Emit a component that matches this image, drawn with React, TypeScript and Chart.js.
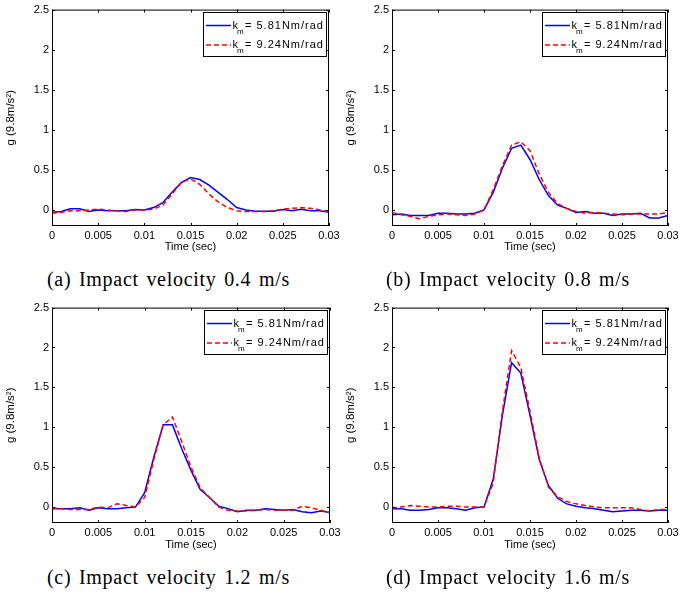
import React, { useEffect, useRef } from "react";
import { Chart, registerables } from "chart.js";

Chart.register(...registerables);

const TIME = [
  0, 0.001, 0.002, 0.003, 0.004, 0.005, 0.006, 0.007, 0.008, 0.009, 0.01,
  0.011, 0.012, 0.013, 0.014, 0.015, 0.016, 0.017, 0.018, 0.019, 0.02,
  0.021, 0.022, 0.023, 0.024, 0.025, 0.026, 0.027, 0.028, 0.029, 0.03,
];

const X_TICKS = [0, 0.005, 0.01, 0.015, 0.02, 0.025, 0.03];
const X_TICK_LABELS = ["0", "0.005", "0.01", "0.015", "0.02", "0.025", "0.03"];
const Y_TICKS = [0, 0.5, 1, 1.5, 2, 2.5];
const Y_TICK_LABELS = ["0", "0.5", "1", "1.5", "2", "2.5"];

const SERIES_NAMES = ["5.81Nm/rad", "9.24Nm/rad"];

// (a) 0.4 m/s
const A_KM581 = [-0.03, -0.02, 0.015, 0.015, -0.02, 0, -0.01, -0.01, -0.01, 0.005, 0, 0.03, 0.09, 0.22, 0.34, 0.405, 0.38, 0.31, 0.22, 0.13, 0.03, 0, -0.015, -0.015, -0.015, 0.005, -0.01, 0.01, -0.01, -0.01, -0.03];
const A_KM924 = [-0.04, -0.03, -0.01, -0.01, 0, 0.01, 0, -0.01, -0.02, 0, 0, 0.01, 0.06, 0.2, 0.34, 0.39, 0.32, 0.2, 0.1, 0.03, -0.01, -0.02, -0.02, -0.02, -0.01, 0.01, 0.02, 0.03, 0.02, 0, -0.02];
// (b) 0.8 m/s
const B_KM581 = [-0.06, -0.05, -0.07, -0.07, -0.07, -0.04, -0.04, -0.05, -0.05, -0.04, 0, 0.22, 0.52, 0.77, 0.81, 0.63, 0.38, 0.18, 0.06, 0.02, -0.03, -0.02, -0.04, -0.04, -0.07, -0.05, -0.05, -0.04, -0.1, -0.1, -0.07];
const B_KM924 = [-0.03, -0.06, -0.08, -0.11, -0.08, -0.06, -0.05, -0.06, -0.07, -0.05, 0, 0.25, 0.55, 0.81, 0.85, 0.74, 0.45, 0.22, 0.08, 0.02, -0.02, -0.04, -0.03, -0.04, -0.05, -0.06, -0.05, -0.05, -0.05, -0.05, -0.03];
// (c) 1.2 m/s
const C_KM581 = [-0.02, -0.02, -0.02, -0.01, -0.04, -0.01, -0.02, -0.02, -0.01, 0, 0.18, 0.63, 1.03, 1.03, 0.73, 0.46, 0.22, 0.12, 0.01, -0.02, -0.06, -0.04, -0.04, -0.02, -0.03, -0.04, -0.03, -0.06, -0.07, -0.05, -0.07];
const C_KM924 = [-0.01, -0.02, -0.03, -0.03, -0.03, 0, -0.01, 0.04, 0.02, 0, 0.12, 0.6, 1.03, 1.13, 0.82, 0.5, 0.24, 0.12, 0, -0.04, -0.05, -0.05, -0.04, -0.03, -0.04, -0.04, -0.04, 0.01, -0.01, -0.04, -0.07];
// (d) 1.6 m/s
const D_KM581 = [-0.02, -0.02, -0.04, -0.04, -0.03, -0.01, -0.01, -0.02, -0.04, -0.01, 0, 0.35, 1.15, 1.81, 1.68, 1.15, 0.6, 0.27, 0.11, 0.04, 0.01, -0.01, -0.02, -0.04, -0.06, -0.05, -0.04, -0.04, -0.05, -0.04, -0.04];
const D_KM924 = [-0.01, 0, 0.02, 0.01, 0, 0, 0.01, 0.01, 0, 0, 0, 0.3, 1.2, 1.96, 1.75, 1.2, 0.62, 0.25, 0.13, 0.07, 0.04, 0.02, 0, -0.01, -0.01, -0.01, -0.01, -0.03, -0.05, -0.03, -0.03];

const CAPTIONS = [
  "(a) Impact velocity 0.4 m/s",
  "(b) Impact velocity 0.8 m/s",
  "(c) Impact velocity 1.2 m/s",
  "(d) Impact velocity 1.6 m/s",
];

const SANS = "'Liberation Sans', Arial, Helvetica, sans-serif";
const BLUE = "#0000ff";
const RED = "#ff0000";

function drawLegend(ctx: CanvasRenderingContext2D, area: any) {
  const w = 123;
  const h = 44;
  const bx = Math.round(area.right - 3 - w);
  const by = Math.round(area.top + 2);
  ctx.save();
  ctx.fillStyle = "#fff";
  ctx.fillRect(bx, by, w, h);
  ctx.strokeStyle = "#000";
  ctx.lineWidth = 1;
  ctx.setLineDash([]);
  ctx.strokeRect(bx + 0.5, by + 0.5, w, h);
  const items = [
    { color: BLUE, dash: [] as number[], name: SERIES_NAMES[0] },
    { color: RED, dash: [5, 3], name: SERIES_NAMES[1] },
  ];
  items.forEach((it, i) => {
    const ly = by + 13.5 + i * 19.5;
    ctx.strokeStyle = it.color;
    ctx.lineWidth = 1.5;
    ctx.setLineDash(it.dash);
    ctx.beginPath();
    ctx.moveTo(bx + 3, ly);
    ctx.lineTo(bx + 28, ly);
    ctx.stroke();
    ctx.setLineDash([]);
    ctx.fillStyle = "#000";
    ctx.textAlign = "left";
    ctx.textBaseline = "middle";
    ctx.font = `11px ${SANS}`;
    (ctx as any).letterSpacing = "0px";
    ctx.fillText("k", bx + 29.5, ly);
    ctx.font = `8px ${SANS}`;
    ctx.fillText("m", bx + 34, ly + 6);
    ctx.font = `11px ${SANS}`;
    (ctx as any).letterSpacing = "1px";
    ctx.fillText("= " + it.name, bx + 42, ly);
    (ctx as any).letterSpacing = "0px";
  });
  ctx.restore();
}

const framePlugin = {
  id: "matlabFrame",
  afterDatasetsDraw(chart: any) {
    const { ctx, chartArea } = chart;
    const { left, right, top, bottom } = chartArea;
    const xs = chart.scales.x;
    const ys = chart.scales.y;
    ctx.save();
    ctx.strokeStyle = "#000";
    ctx.lineWidth = 1;
    ctx.setLineDash([]);
    ctx.strokeRect(left + 0.5, top + 0.5, right - left - 1, bottom - top - 1);
    ctx.beginPath();
    for (const v of X_TICKS) {
      const px = Math.round(xs.getPixelForValue(v)) + 0.5;
      ctx.moveTo(px, bottom);
      ctx.lineTo(px, bottom - 3);
      ctx.moveTo(px, top);
      ctx.lineTo(px, top + 3);
    }
    for (const v of Y_TICKS) {
      const py = Math.round(ys.getPixelForValue(v)) + 0.5;
      ctx.moveTo(left, py);
      ctx.lineTo(left + 3, py);
      ctx.moveTo(right, py);
      ctx.lineTo(right - 3, py);
    }
    ctx.stroke();
    ctx.restore();
    drawLegend(ctx, chartArea);
  },
};

type PanelProps = {
  left: number;
  top: number;
  rightPad: number;
  xAxisHeight: number;
  km581: number[];
  km924: number[];
};

function Panel({ left, top, rightPad, xAxisHeight, km581, km924 }: PanelProps) {
  const ref = useRef<HTMLCanvasElement | null>(null);
  useEffect(() => {
    if (!ref.current) return;
    const font = { family: SANS, size: 11 };
    const chart = new Chart(ref.current, {
      type: "line",
      data: {
        labels: TIME,
        datasets: [
          {
            label: SERIES_NAMES[0],
            data: TIME.map((t, i) => ({ x: t, y: km581[i] })),
            borderColor: BLUE,
            borderWidth: 1.5,
            pointRadius: 0,
            tension: 0,
            fill: false,
            order: 1,
          },
          {
            label: SERIES_NAMES[1],
            data: TIME.map((t, i) => ({ x: t, y: km924[i] })),
            borderColor: RED,
            borderWidth: 1.5,
            borderDash: [5, 3],
            pointRadius: 0,
            tension: 0,
            fill: false,
            order: 0,
          },
        ],
      },
      options: {
        responsive: false,
        animation: false,
        events: [],
        layout: { padding: { left: 0, right: rightPad, top: 8, bottom: 0 } },
        plugins: { legend: { display: false }, tooltip: { enabled: false } },
        scales: {
          x: {
            type: "linear",
            min: 0,
            max: 0.03,
            afterBuildTicks: (s: any) => {
              s.ticks = X_TICKS.map((v) => ({ value: v }));
            },
            afterFit: (s: any) => {
              s.height = xAxisHeight;
            },
            grid: { display: false, drawTicks: false },
            border: { display: false },
            ticks: {
              padding: 3,
              color: "#000",
              font,
              maxRotation: 0,
              autoSkip: false,
              callback: (_v: any, i: number) => X_TICK_LABELS[i],
            },
            title: {
              display: true,
              text: "Time (sec)",
              color: "#000",
              font,
              padding: { top: 0, bottom: 6 },
            },
          },
          y: {
            type: "linear",
            min: -0.2,
            max: 2.5,
            afterBuildTicks: (s: any) => {
              s.ticks = Y_TICKS.map((v) => ({ value: v }));
            },
            afterFit: (s: any) => {
              s.width = 52;
            },
            grid: { display: false, drawTicks: false },
            border: { display: false },
            ticks: {
              padding: 3,
              color: "#000",
              font,
              autoSkip: false,
              callback: (_v: any, i: number) => Y_TICK_LABELS[i],
            },
            title: {
              display: true,
              text: "g (9.8m/s\u00B2)",
              color: "#000",
              font: { family: SANS, size: 11.5 },
              padding: { top: 4, bottom: 0 },
            },
          },
        },
      } as any,
      plugins: [framePlugin],
    });
    return () => chart.destroy();
  }, [km581, km924, rightPad, xAxisHeight]);
  return (
    <canvas
      ref={ref}
      width={350}
      height={260}
      style={{ position: "absolute", left, top, width: 350, height: 260 }}
    />
  );
}

const captionStyle: React.CSSProperties = {
  position: "absolute",
  fontFamily: "'Liberation Serif', 'Times New Roman', serif",
  fontSize: 20,
  letterSpacing: "0.7px",
  wordSpacing: "2px",
  whiteSpace: "nowrap",
  color: "#000",
  lineHeight: "22px",
  margin: 0,
};

export default function App() {
  return (
    <div
      style={{
        position: "absolute",
        left: 0,
        top: 0,
        width: 699,
        height: 597,
        background: "#fff",
        overflow: "hidden",
      }}
    >
      <Panel left={0} top={0} rightPad={21} xAxisHeight={34} km581={A_KM581} km924={A_KM924} />
      <Panel left={340} top={0} rightPad={22} xAxisHeight={34} km581={B_KM581} km924={B_KM924} />
      <Panel left={0} top={298} rightPad={20} xAxisHeight={35} km581={C_KM581} km924={C_KM924} />
      <Panel left={340} top={298} rightPad={22} xAxisHeight={35} km581={D_KM581} km924={D_KM924} />
      <div style={{ ...captionStyle, left: 47, top: 268 }}>{CAPTIONS[0]}</div>
      <div style={{ ...captionStyle, left: 386, top: 268 }}>{CAPTIONS[1]}</div>
      <div style={{ ...captionStyle, left: 47, top: 566 }}>{CAPTIONS[2]}</div>
      <div style={{ ...captionStyle, left: 386, top: 566 }}>{CAPTIONS[3]}</div>
    </div>
  );
}
